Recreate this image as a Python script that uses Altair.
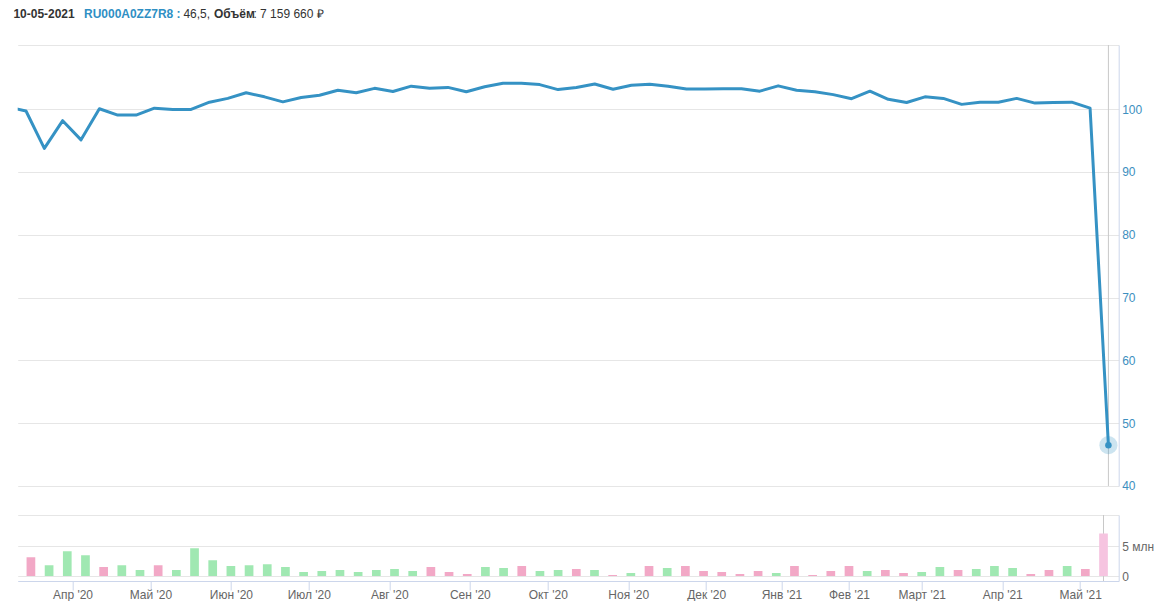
import json
import numpy as np
import pandas as pd
import altair as alt

# ---------------- data ----------------
ticker = "RU000A0ZZ7R8"
dates = [
    "2020-03-09", "2020-03-16", "2020-03-23", "2020-03-30", "2020-04-06", "2020-04-13",
    "2020-04-20", "2020-04-27", "2020-05-04", "2020-05-11", "2020-05-18", "2020-05-25",
    "2020-06-01", "2020-06-08", "2020-06-15", "2020-06-22", "2020-06-29", "2020-07-06",
    "2020-07-13", "2020-07-20", "2020-07-27", "2020-08-03", "2020-08-10", "2020-08-17",
    "2020-08-24", "2020-08-31", "2020-09-07", "2020-09-14", "2020-09-21", "2020-09-28",
    "2020-10-05", "2020-10-12", "2020-10-19", "2020-10-26", "2020-11-02", "2020-11-09",
    "2020-11-16", "2020-11-23", "2020-11-30", "2020-12-07", "2020-12-14", "2020-12-21",
    "2020-12-28", "2021-01-11", "2021-01-18", "2021-01-25", "2021-02-01", "2021-02-08",
    "2021-02-15", "2021-02-22", "2021-03-01", "2021-03-08", "2021-03-15", "2021-03-22",
    "2021-03-29", "2021-04-05", "2021-04-12", "2021-04-19", "2021-04-26", "2021-05-03",
    "2021-05-10",
]
prices = [
    100.35, 99.7, 93.75, 98.15, 95.1, 100.05, 99.05, 99.05, 100.15, 99.95, 99.95,
    101.1, 101.7, 102.6, 101.95, 101.15, 101.85, 102.2, 103.0, 102.6, 103.3,
    102.8, 103.65, 103.3, 103.45, 102.75, 103.55, 104.1, 104.1, 103.9, 103.1,
    103.45, 104.0, 103.15, 103.8, 103.95, 103.65, 103.2, 103.2, 103.25, 103.25,
    102.85, 103.7, 103.0, 102.75, 102.3, 101.65, 102.85, 101.55, 101.05, 101.95,
    101.7, 100.75, 101.1, 101.1, 101.7, 100.95, 101.05, 101.1, 100.15, 46.5,
]
# weekly volume, millions (from 2020-03-16 on)
volumes = [
    3.17, 1.83, 4.17, 3.5, 1.5, 1.83, 1.0, 1.83, 1.0, 4.67,
    2.67, 1.67, 1.83, 2.0, 1.5, 0.67, 0.83, 1.0, 0.67, 1.0,
    1.17, 0.83, 1.5, 0.67, 0.33, 1.5, 1.33, 1.67, 0.83, 1.0,
    1.17, 1.0, 0.17, 0.5, 1.67, 1.33, 1.67, 0.83, 0.67, 0.33,
    0.83, 0.5, 1.67, 0.17, 0.83, 1.67, 0.83, 1.0, 0.5, 0.67,
    1.5, 1.0, 1.17, 1.67, 1.33, 0.33, 1.0, 1.67, 1.17, 7.15966,
]
kinds = [
    "down", "up", "up", "up", "down", "up", "up", "down", "up", "up",
    "up", "up", "up", "up", "up", "up", "up", "up", "up", "up",
    "up", "up", "down", "down", "down", "up", "up", "down", "up", "up",
    "down", "up", "down", "up", "down", "up", "down", "down", "down", "down",
    "down", "up", "down", "down", "down", "down", "up", "down", "down", "up",
    "up", "down", "up", "up", "up", "down", "down", "up", "down", "hover",
]
month_starts = [
    "2020-04-01", "2020-05-01", "2020-06-01", "2020-07-01", "2020-08-01", "2020-09-01",
    "2020-10-01", "2020-11-01", "2020-12-01", "2021-01-01", "2021-02-01", "2021-03-01",
    "2021-04-01", "2021-05-01",
]
month_labels = [
    "Апр '20", "Май '20", "Июн '20", "Июл '20", "Авг '20", "Сен '20", "Окт '20",
    "Ноя '20", "Дек '20", "Янв '21", "Фев '21", "Март '21", "Апр '21", "Май '21",
]

# ---------------- derived tables ----------------
idx = np.arange(len(dates)) - 1  # ordinal axis: evenly spaced points
day_nums = pd.to_datetime(pd.Series(dates)).map(pd.Timestamp.toordinal).to_numpy()
m_days = pd.to_datetime(pd.Series(month_starts)).map(pd.Timestamp.toordinal).to_numpy()
tick_pos = [round(float(v), 4) for v in np.interp(m_days, day_nums, idx)]

price_df = pd.DataFrame({"i": [int(v) for v in idx], "price": prices})
vol_df = pd.DataFrame({"i": [int(v) for v in idx[1:]], "vol": volumes, "kind": kinds})
last = price_df.iloc[[-1]].reset_index(drop=True)

last_date = pd.Timestamp(dates[-1]).strftime("%d-%m-%Y")
last_price = f"{prices[-1]:.1f}".replace(".", ",")
last_vol = f"{round(volumes[-1] * 1e6):,}".replace(",", " ")

BLUE = "#3592c4"
LABEL_BLUE = "#3d8fc0"
GRID = "#e6e6e6"
AXIS_LINE = "#ccd6eb"
FONT = "Liberation Sans"

xscale = alt.Scale(domain=[-0.452, 59.56], nice=False, zero=False)

label_expr = (
    f"{json.dumps(month_labels, ensure_ascii=False)}"
    f"[indexof({json.dumps(tick_pos)}, datum.value)]"
)

# ---------------- price panel ----------------
line = alt.Chart(price_df).mark_line(color=BLUE, strokeWidth=3, clip=True, strokeJoin="round").encode(
    x=alt.X("i:Q", scale=xscale, axis=None),
    y=alt.Y(
        "price:Q",
        scale=alt.Scale(domain=[40, 110.2], nice=False, zero=False),
        axis=alt.Axis(
            orient="right", values=[40, 50, 60, 70, 80, 90, 100, 110.2],
            labelExpr="datum.value > 105 ? '' : datum.label",
            title=None, ticks=False, domainColor=AXIS_LINE, gridColor=GRID,
            labelColor=LABEL_BLUE, labelFontSize=12, labelFont=FONT, labelPadding=3,
        ),
    ),
)
cross = alt.Chart(last).mark_rule(color="#c8c8c8", strokeWidth=1).encode(
    x=alt.X("i:Q", scale=xscale, axis=None))
halo = alt.Chart(last).mark_circle(size=330, color=BLUE, opacity=0.25).encode(
    x=alt.X("i:Q", scale=xscale, axis=None), y=alt.Y("price:Q"))
dot = alt.Chart(last).mark_circle(size=42, color=BLUE, opacity=1).encode(
    x=alt.X("i:Q", scale=xscale, axis=None), y=alt.Y("price:Q"))


def htxt(s, xpos, color="#333333", bold=False):
    return alt.Chart(last).mark_text(
        align="left", baseline="middle", fontSize=12, font=FONT,
        fontWeight="bold" if bold else "normal", color=color,
    ).encode(x=alt.value(xpos), y=alt.value(-31), text=alt.value(s))


h1 = htxt(last_date, -4.3, bold=True)
h2 = htxt(f"{ticker} :", 66.3, color="#2f8fc4", bold=True)
h3 = htxt(f"{last_price},", 165.7)
h4 = htxt("Объём", 196.3, bold=True)
h5 = htxt(f": {last_vol} ₽", 235.7)

price_panel = alt.layer(cross, line, halo, dot, h1, h2, h3, h4, h5).properties(width=1101, height=441)

# ---------------- volume panel ----------------
bars = alt.Chart(vol_df).mark_bar(size=8.7, clip=True).encode(
    x=alt.X(
        "i:Q", scale=xscale,
        axis=alt.Axis(
            values=tick_pos, labelExpr=label_expr, title=None, grid=False,
            tickColor=AXIS_LINE, tickSize=9, domainColor=AXIS_LINE,
            labelColor="#666666", labelFontSize=12, labelFont=FONT, labelPadding=0,
            labelFlush=False, labelOverlap=False,
        ),
    ),
    y=alt.Y(
        "vol:Q",
        scale=alt.Scale(domain=[-0.84, 10.27], nice=False, zero=False),
        axis=alt.Axis(
            orient="right", values=[0, 5, 10.27],
            labelExpr="datum.value == 0 ? '0' : datum.value == 5 ? '5 млн' : ''",
            title=None, ticks=False, domainColor=AXIS_LINE, gridColor=GRID,
            labelColor="#666666", labelFontSize=12, labelFont=FONT, labelPadding=3,
        ),
    ),
    color=alt.Color(
        "kind:N",
        scale=alt.Scale(domain=["up", "down", "hover"], range=["#a0e8b2", "#f2a8c6", "#f6c4e0"]),
        legend=None,
    ),
)
cross_v = alt.Chart(last).mark_rule(color="#c8c8c8", strokeWidth=1).encode(
    x=alt.X("i:Q", scale=xscale))
vol_panel = alt.layer(cross_v, bars).properties(width=1101, height=66)

chart = (
    alt.vconcat(price_panel, vol_panel, spacing=22)
    .properties(padding={"left": 4.7, "top": 0, "right": 5, "bottom": 0})
    .configure_view(stroke=None)
    .configure_concat(spacing=22)
)

chart.save("out.html", embed_options={"renderer": "svg", "actions": False})
